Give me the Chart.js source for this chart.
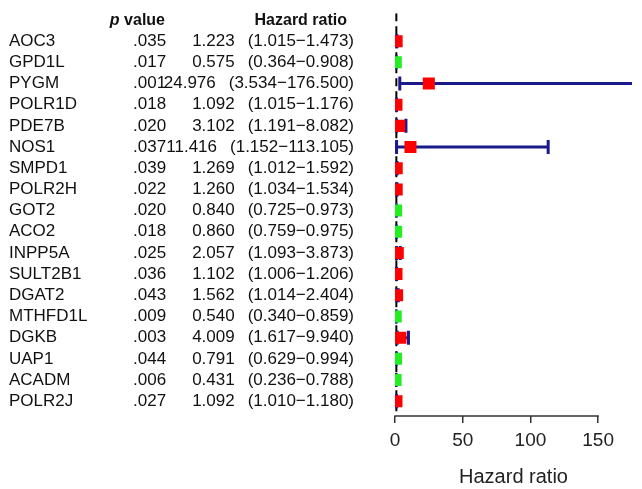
<!DOCTYPE html>
<html>
<head>
<meta charset="utf-8">
<script src="https://cdn.jsdelivr.net/npm/chart.js@4/dist/chart.umd.min.js"></script>
<style>
  body { margin: 0; background: #fff; }
  #wrap { width: 642px; height: 489px; position: relative; }
</style>
</head>
<body>
<div id="wrap"><canvas id="forest"></canvas></div>
<script>
// Data
const genes = ['AOC3','GPD1L','PYGM','POLR1D','PDE7B','NOS1','SMPD1','POLR2H','GOT2','ACO2','INPP5A','SULT2B1','DGAT2','MTHFD1L','DGKB','UAP1','ACADM','POLR2J'];
const pValues = ['.035','.017','.001','.018','.020','.037','.039','.022','.020','.018','.025','.036','.043','.009','.003','.044','.006','.027'];
const hazard = [1.223,0.575,24.976,1.092,3.102,11.416,1.269,1.260,0.840,0.860,2.057,1.102,1.562,0.540,4.009,0.791,0.431,1.092];
const lower = [1.015,0.364,3.534,1.015,1.191,1.152,1.012,1.034,0.725,0.759,1.093,1.006,1.014,0.340,1.617,0.629,0.236,1.010];
const upper = [1.473,0.908,176.500,1.176,8.082,113.105,1.592,1.534,0.973,0.975,3.873,1.206,2.404,0.859,9.940,0.994,0.788,1.180];
const xTicks = [0, 50, 100, 150];

const FONT = '"Liberation Sans", Arial, sans-serif';
Chart.defaults.font.family = FONT;
Chart.defaults.color = '#111';

const navy = '#1a1a8a';

// whisker segments, broken by empty points
const whiskers = [];
genes.forEach((g, i) => {
  whiskers.push({x: lower[i], y: i}, {x: upper[i], y: i}, {x: null, y: null});
});
const caps = [];
genes.forEach((g, i) => {
  caps.push({x: lower[i], y: i}, {x: upper[i], y: i});
});

// left table + headers + partial axis line
const tablePlugin = {
  id: 'table',
  afterDraw(chart) {
    const {ctx, scales: {x, y}, chartArea} = chart;
    ctx.save();
    ctx.fillStyle = '#111';
    ctx.font = '17px ' + FONT;
    ctx.textBaseline = 'middle';
    genes.forEach((g, i) => {
      const py = y.getPixelForValue(i);
      ctx.textAlign = 'left';
      ctx.fillText(pValues[i], 133, py);
      // HR and CI form one right-aligned string
      const ci = '(' + lower[i].toFixed(3) + '\u2212' + upper[i].toFixed(3) + ')';
      const ciW = ctx.measureText(ci).width;
      ctx.textAlign = 'right';
      ctx.fillText(ci, 354, py);
      ctx.fillText(hazard[i].toFixed(3), 354 - ciW - 13, py);
    });

    // headers
    ctx.textBaseline = 'alphabetic';
    ctx.font = 'bold 16px ' + FONT;
    ctx.textAlign = 'right';
    ctx.fillText('value', 165, 25);
    const vw = ctx.measureText('value').width;
    ctx.font = 'italic bold 16px ' + FONT;
    ctx.fillText('p ', 165 - vw, 25);
    ctx.font = 'bold 16px ' + FONT;
    ctx.fillText('Hazard ratio', 347, 25);

    // axis line only from 0 to 150
    ctx.strokeStyle = '#333';
    ctx.lineWidth = 1.5;
    ctx.beginPath();
    ctx.moveTo(x.getPixelForValue(xTicks[0]) - 0.75, chartArea.bottom);
    ctx.lineTo(x.getPixelForValue(xTicks[xTicks.length - 1]) + 0.75, chartArea.bottom);
    ctx.stroke();
    ctx.restore();
  }
};

new Chart(document.getElementById('forest'), {
  type: 'scatter',
  data: {
    datasets: [
      {
        label: 'HR',
        data: genes.map((g, i) => ({x: hazard[i], y: i})),
        pointStyle: 'rect',
        pointRadius: 8.5,
        pointHoverRadius: 8.5,
        borderWidth: 0,
        backgroundColor: hazard.map(v => v > 1 ? '#ff0000' : '#22ee22'),
        order: 0
      },
      {
        label: 'caps',
        data: caps,
        pointStyle: 'line',
        rotation: 90,
        pointRadius: 7,
        borderWidth: 3,
        borderColor: navy,
        order: 1
      },
      {
        label: 'CI',
        data: whiskers,
        showLine: true,
        spanGaps: false,
        pointRadius: 0,
        borderWidth: 3,
        borderColor: navy,
        order: 2
      },
      {
        label: 'ref',
        data: [{x: 1, y: -1.32}, {x: 1, y: 17.7}],
        showLine: true,
        pointRadius: 0,
        borderWidth: 2,
        borderColor: '#000',
        borderDash: [8, 5],
        order: 3
      }
    ]
  },
  options: {
    responsive: true,
    maintainAspectRatio: false,
    animation: false,
    layout: { padding: { left: 9, top: 12, right: 0, bottom: 0 } },
    plugins: {
      legend: { display: false },
      tooltip: { enabled: false }
    },
    scales: {
      x: {
        type: 'linear',
        min: 0,
        max: 175,
        afterBuildTicks: s => { s.ticks = xTicks.map(v => ({value: v})); },
        afterFit: s => { s.height = 73; },
        grid: { drawOnChartArea: false, drawTicks: true, tickLength: 7, color: '#333', lineWidth: 1.5 },
        border: { display: false },
        ticks: { font: { size: 19 }, color: '#222', padding: 6 },
        title: { display: true, text: 'Hazard ratio', font: { size: 20 }, color: '#222', padding: { top: 0, bottom: 0 } }
      },
      y: {
        type: 'linear',
        reverse: true,
        min: -1.32,
        max: 17.7,
        afterBuildTicks: s => { s.ticks = genes.map((g, i) => ({value: i})); },
        afterFit: s => { s.width = 386; },
        grid: { display: false },
        border: { display: false },
        ticks: {
          autoSkip: false,
          crossAlign: 'far',
          font: { size: 17 },
          color: '#111',
          callback: v => genes[v]
        }
      }
    }
  },
  plugins: [tablePlugin]
});
</script>
</body>
</html>
